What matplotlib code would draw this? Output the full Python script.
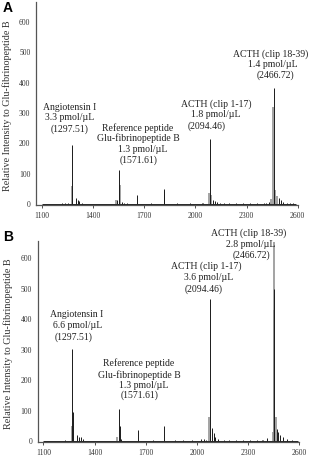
import matplotlib
matplotlib.use("Agg")
import matplotlib.pyplot as plt

plt.rcParams['font.family'] = ['Liberation Serif', 'DejaVu Serif']

# ---- panel A peaks (m/z, intensity), black = main sticks, gray = shoulders ----
a_black_mz = [1275, 1301, 1311, 1320, 1334, 1217, 1236, 1256,
              1553, 1543, 1570, 1583, 1598, 1658, 1815, 1819,
              1741, 1893, 1971, 2086, 2037, 2047, 2102, 2116, 2129, 2145,
              2170, 2200, 2240, 2280, 2320, 2360, 2400,
              2461, 2430, 2414, 2489, 2500, 2516, 2535, 2555, 2574]
a_black_h = [195, 20, 15, 10, 5, 3, 3, 4,
             113, 12, 8, 4, 3, 31, 50, 42,
             2, 2, 2, 215, 5, 3, 15, 10, 8, 5,
             3, 3, 3, 3, 3, 3, 4,
             383, 8, 4, 20, 15, 8, 5, 3, 3]
a_gray_mz = [1279, 1559, 1535, 2082, 2092, 2457, 2469, 2443, 2477]
a_gray_h = [58, 62, 15, 38, 30, 318, 46, 18, 25]

# ---- panel B peaks ----
b_black_mz = [1270, 1276, 1300, 1310, 1320, 1333, 1227,
              1545, 1551, 1557, 1653, 1809, 1745, 1871, 1920, 1969,
              2079, 2089, 2097, 2106, 2126, 2026, 2040, 2055,
              2160, 2190, 2230, 2270, 2310, 2350, 2380,
              2451, 2467, 2477, 2487, 2502, 2526, 2555, 2408, 2389]
b_black_h = [302, 96, 20, 15, 12, 8, 5,
             105, 50, 8, 35, 51, 3, 2, 3, 3,
             468, 42, 25, 12, 8, 8, 6, 5,
             4, 3, 4, 3, 4, 3, 5,
             500, 40, 30, 20, 12, 8, 5, 10, 5]
b_gray_mz = [1266, 1533, 2073, 2451, 2453, 2461, 2443]
b_gray_h = [50, 15, 80, 655, 430, 80, 30]

mz_range = [1100, 2590]

labels_a = [("Angiotensin I", 1266, 317), ("3.3 pmol/\u00b5L", 1266, 284), ("(1297.51)", 1266, 248),
            ("Reference peptide", 1665, 251), ("Glu-fibrinopeptide B", 1665, 218),
            ("1.3 pmol/\u00b5L", 1694, 181), ("(1571.61)", 1670, 146),
            ("ACTH (clip 1-17)", 2121, 329), ("1.8 pmol/\u00b5L", 2121, 294), ("(2094.46)", 2069, 257),
            ("ACTH (clip 18-39)", 2444, 494), ("1.4 pmol/\u00b5L", 2455, 461), ("(2466.72)", 2467, 425)]
labels_b = [("Angiotensin I", 1295, 417), ("6.6 pmol/\u00b5L", 1298, 379), ("(1297.51)", 1280, 340),
            ("Reference peptide", 1660, 256), ("Glu-fibrinopeptide B", 1665, 218),
            ("1.3 pmol/\u00b5L", 1689, 184), ("(1571.61)", 1665, 152),
            ("ACTH (clip 1-17)", 2057, 574), ("3.6 pmol/\u00b5L", 2067, 538), ("(2094.46)", 2037, 499),
            ("ACTH (clip 18-39)", 2301, 683), ("2.8 pmol/\u00b5L", 2315, 645), ("(2466.72)", 2321, 609)]

xticks = [1100, 1400, 1700, 2000, 2300, 2600]
yticks = [0, 100, 200, 300, 400, 500, 600]
ylabel = "Relative Intensity to Glu-fibrinopeptide B"

fig = plt.figure(figsize=(3.11, 4.58), dpi=100)
ax_a = fig.add_axes([0.1158, 0.5524, 0.8415, 0.4432])
ax_b = fig.add_axes([0.1212, 0.0349, 0.8415, 0.4395])


def draw_panel(ax, bmz, bh, gmz, gh, labels, ytop, letter, ly):
    ax.hlines(1, mz_range[0], mz_range[1], color='#222222', lw=0.7)
    ax.vlines(gmz, 0, gh, color='#8a8a8a', lw=1.1)
    ax.vlines(bmz, 0, bh, color='#1a1a1a', lw=0.7)
    for txt, x, y in labels:
        ax.text(x, y, txt, ha='center', va='center', fontsize=7.0, color='#222222', clip_on=False)
    ax.set_xlim(1067, 2600)
    ax.set_ylim(-3, ytop)
    ax.set_xticks(xticks)
    ax.set_yticks(yticks)
    ax.tick_params(axis='x', length=2, width=0.6, pad=3, labelsize=5.5, colors='#333333')
    ax.tick_params(axis='y', length=0, pad=4, labelsize=5.5, colors='#333333')
    for s in ['top', 'right']:
        ax.spines[s].set_visible(False)
    for s in ['left', 'bottom']:
        ax.spines[s].set_color('#555555')
        ax.spines[s].set_linewidth(0.9)
    ax.set_ylabel(ylabel, fontsize=7.3, color='#333333')
    ax.yaxis.set_label_coords(-0.093, 0.49)
    fig.text(0.01, ly, letter, fontsize=10, fontweight='bold', family='Liberation Sans', va='top')


draw_panel(ax_a, a_black_mz, a_black_h, a_gray_mz, a_gray_h, labels_a, 665, 'A', 0.997)
draw_panel(ax_b, b_black_mz, b_black_h, b_gray_mz, b_gray_h, labels_b, 658, 'B', 0.497)

fig.savefig('out.png', dpi=100)
